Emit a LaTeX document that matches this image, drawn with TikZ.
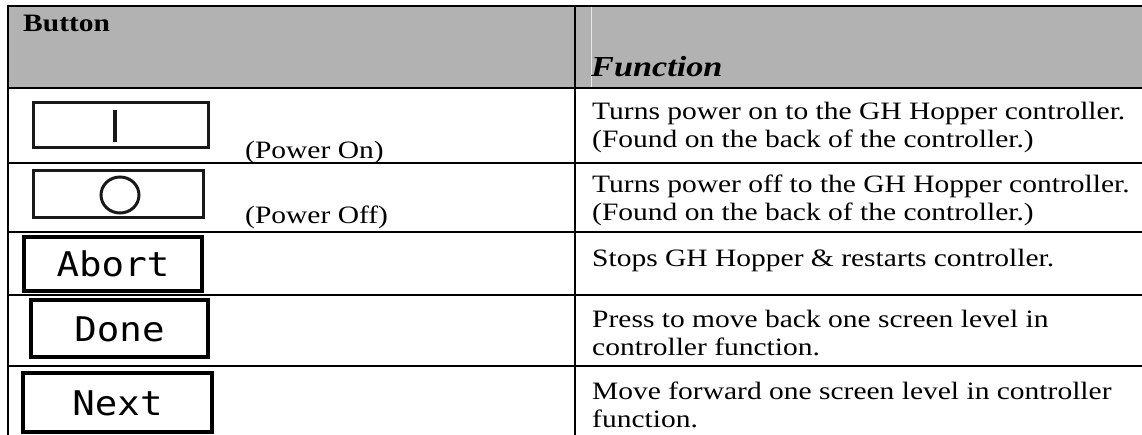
\documentclass[tikz,border=0pt]{standalone}
\usepackage{fontspec}
\setmainfont{Liberation Serif}[FakeStretch=1.18]
\newfontfamily\pixfont{DejaVu Sans Mono}[FakeStretch=1.1]
\definecolor{hdrgray}{RGB}{178,178,178}
\begin{document}
\begin{tikzpicture}[x=1pt,y=-1pt,
  grid/.style={line width=2pt, black},
  body/.style={anchor=base west, inner sep=0pt, font=\fontsize{25}{28}\selectfont},
  pbtn/.style={draw=black!90, line width=3pt, fill=white, inner sep=0pt},
  dbtn/.style={draw=black, line width=4pt, fill=white, inner sep=0pt, text height=25pt, text depth=0pt, font=\pixfont\fontsize{34}{34}\selectfont},
]
\useasboundingbox (0,0) rectangle (1142,435);
\fill[white] (0,0) rectangle (1142,435);
\fill[hdrgray] (8,6) rectangle (1142,88);
\draw[white!70!hdrgray, line width=0.8pt] (591,7) -- (591,87);
% table rules
\draw[grid] (7,6) -- (1142,6);
\draw[grid] (7,88) -- (1142,88);
\foreach \y in {163,232,295,366} \draw[grid] (8,\y) -- (1142,\y);
\draw[grid] (8,5) -- (8,435);
\draw[grid] (575,5) -- (575,435);
% header
\node[body, font=\bfseries\fontsize{25}{28}\selectfont] (hbtn) at (23,32) {Button};
\node[body, font=\bfseries\itshape\fontsize{29}{32}\selectfont] (hfun) at (591,77) {Function};
% power buttons
\node[pbtn, minimum width=175pt, minimum height=45pt] (pon) at (120.5,125.5) {};
\draw[black!90, line width=3.2pt] (115,110) -- (115,142);
\node[body] (ponl) at (245,159) {(Power On)};
\node[pbtn, minimum width=170pt, minimum height=47pt] (poff) at (118,194.5) {};
\draw[black!90, line width=3pt] (120,195) ellipse [x radius=19, y radius=18];
\node[body] (poffl) at (245,224) {(Power Off)};
% display buttons
\node[dbtn, minimum width=178pt, minimum height=54pt] (abort) at (113,264) {Abort};
\node[dbtn, minimum width=177pt, minimum height=57pt] (done) at (119.5,328.5) {Done};
\node[dbtn, minimum width=189pt, minimum height=59pt] (next) at (117.5,402.5) {Next};
% function texts
\node[body] (f1a) at (592,120) {Turns power on to the GH Hopper controller.};
\node[body] (f1b) at (592,148) {(Found on the back of the controller.)};
\node[body] (f2a) at (592,193) {Turns power off to the GH Hopper controller.};
\node[body] (f2b) at (592,221) {(Found on the back of the controller.)};
\node[body] (f3a) at (592,267) {Stops GH Hopper \& restarts controller.};
\node[body] (f4a) at (592,327) {Press to move back one screen level in};
\node[body] (f4b) at (592,355) {controller function.};
\node[body] (f5a) at (592,399) {Move forward one screen level in controller};
\node[body] (f5b) at (592,427) {function.};
\end{tikzpicture}
\end{document}
